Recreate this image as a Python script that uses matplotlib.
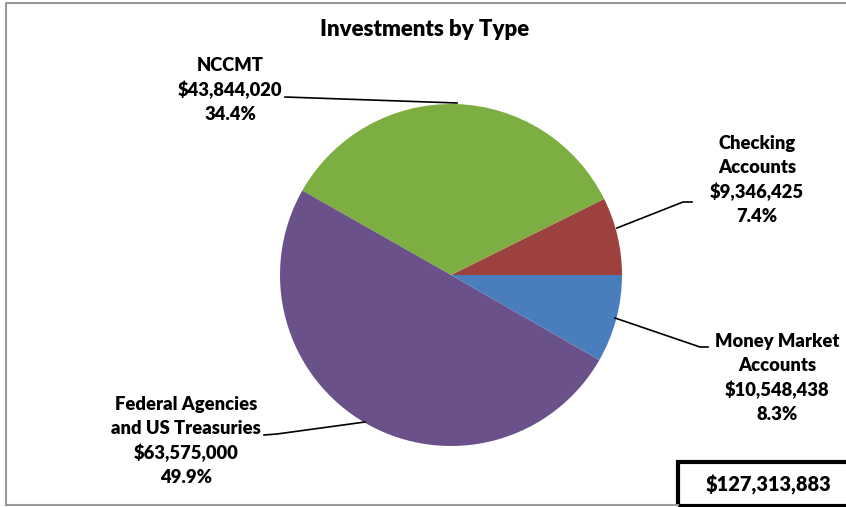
import matplotlib.pyplot as plt
from matplotlib.patches import Rectangle

# data
labels = ['Checking\nAccounts', 'NCCMT', 'Federal Agencies\nand US Treasuries', 'Money Market\nAccounts']
amounts = [9346425, 43844020, 63575000, 10548438]
pct_text = ['7.4%', '34.4%', '49.9%', '8.3%']
colors = ['#9C413E', '#7DAE41', '#6A5189', '#4A7DBB']
total_text = '$127,313,883'

W, H = 846, 507
plt.rcParams['font.family'] = ['Lato', 'DejaVu Sans']
plt.rcParams['font.weight'] = 'heavy'

fig = plt.figure(figsize=(W / 100, H / 100), dpi=100)
ax = fig.add_axes([0, 0, 1, 1])

def Y(y):
    return H - y

cx, cy, r = 451, Y(275), 171
wedges, _ = ax.pie(amounts, colors=colors, startangle=0, counterclock=True,
                   center=(cx, cy), radius=r,
                   wedgeprops=dict(linewidth=0))
ax.set_xlim(0, W)
ax.set_ylim(0, H)
ax.axis('off')

# figure frame
ax.plot([6, 6, W + 5], [Y(505), Y(3), Y(3)], color='#9a9a9a', lw=1.5)
ax.plot([6, 678], [Y(505), Y(505)], color='#9a9a9a', lw=1.5)

ax.text(425, Y(30), 'Investments by Type', ha='center', va='center', fontsize=16)

# label blocks: (text center x, center y, leader line points)
pos = [
    (757, Y(180), [(617, 228), (683, 202), (692, 202)]),
    (230, Y(90), [(457, 103), (285, 97)]),
    (186, Y(441), [(365, 422), (277, 434), (264, 435)]),
    (777, Y(378), [(615, 318), (700, 347), (708, 347)]),
]
for lab, amt, pc, (tx, ty, pts) in zip(labels, amounts, pct_text, pos):
    s = lab + '\n' + '${:,}'.format(amt) + '\n' + pc
    ax.text(tx, ty, s, ha='center', va='center', fontsize=13.2,
            linespacing=1.46)
    ax.plot([p[0] for p in pts], [Y(p[1]) for p in pts], color='black', lw=1.2)

ax.add_patch(Rectangle((678, Y(506)), 200, 44, fill=False, ec='black', lw=3,
                       clip_on=False))
ax.text(768, Y(485), total_text, ha='center', va='center', fontsize=14.4)

fig.savefig('out.png', dpi=100)
